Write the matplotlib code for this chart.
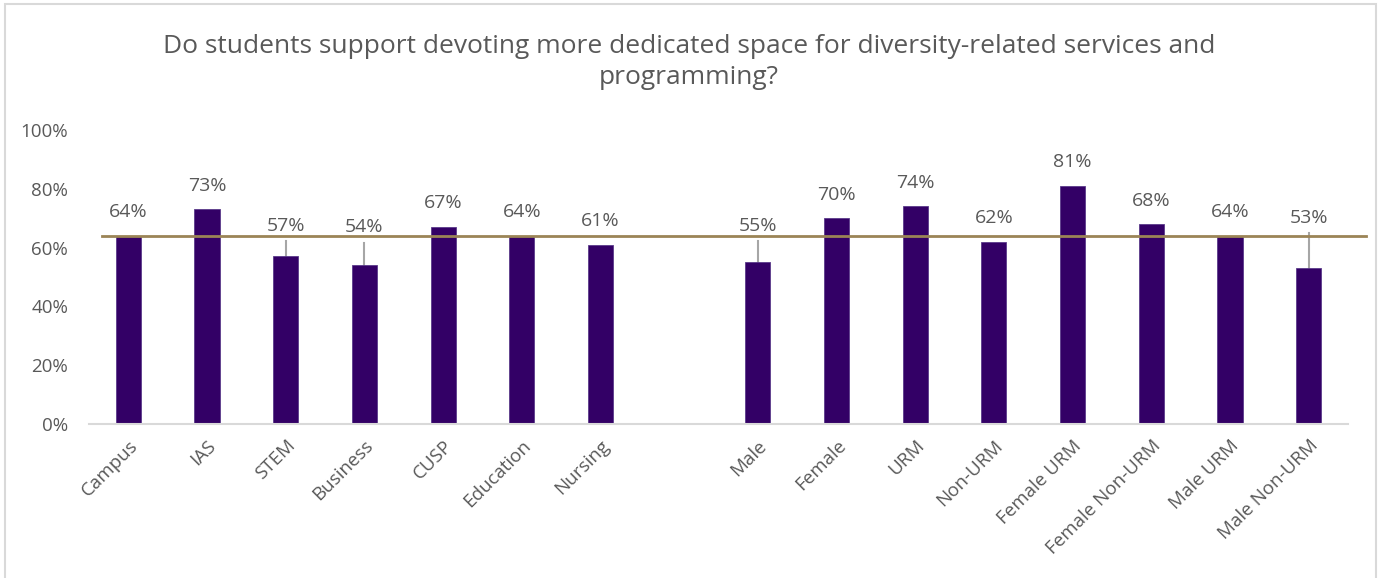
import numpy as np
import matplotlib.pyplot as plt
from matplotlib.patches import Rectangle

plt.rcParams['font.family'] = ['Open Sans', 'DejaVu Sans']

categories = ['Campus', 'IAS', 'STEM', 'Business', 'CUSP', 'Education', 'Nursing', '',
              'Male', 'Female', 'URM', 'Non-URM', 'Female URM', 'Female Non-URM',
              'Male URM', 'Male Non-URM']
support = [0.64, 0.73, 0.57, 0.54, 0.67, 0.64, 0.61, np.nan,
           0.55, 0.70, 0.74, 0.62, 0.81, 0.68, 0.64, 0.53]
campus_avg = 0.64

# labels that were pulled up above the average line: (label y, leader top)
moved_labels = {'STEM': (0.673, 0.622), 'Business': (0.670, 0.616),
                'Male': (0.673, 0.622), 'Male Non-URM': (0.700, 0.650)}

purple = '#330066'
gold = '#9b8456'
text_col = '#595959'

fig = plt.figure(figsize=(13.78, 5.78), dpi=100)
ax = fig.add_axes([0.0646, 0.2664, 0.9136, 0.5086])

x = np.arange(len(categories))
ax.bar(x, support, width=0.32, color=purple, edgecolor='#5a3a8a', linewidth=0.6, zorder=2)

ax.plot([-0.335, 15.73], [campus_avg, campus_avg], color=gold, lw=2, zorder=3, clip_on=False)

for xi, name, v in zip(x, categories, support):
    if np.isnan(v):
        continue
    txt = f'{v * 100:.0f}%'
    if name in moved_labels:
        ly, top = moved_labels[name]
        ax.plot([xi, xi], [v, top], color='#a6a6a6', lw=1.5, zorder=1)
        ax.text(xi, ly, txt, ha='center', va='center', fontsize=14, color=text_col)
    else:
        ax.annotate(txt, (xi, v), xytext=(0, 17), textcoords='offset points',
                    ha='center', va='center', fontsize=14, color=text_col)

ax.set_xlim(-0.5, len(categories) - 0.5)
ax.set_ylim(0, 1)
ax.set_yticks(np.arange(0, 1.01, 0.2))
ax.set_yticklabels([f'{t * 100:.0f}%' for t in np.arange(0, 1.01, 0.2)])
ax.set_xticks(x)
ax.set_xticklabels(categories, rotation=45, ha='right', rotation_mode='anchor')
ax.tick_params(axis='both', length=0, labelsize=13.5, labelcolor=text_col)
ax.tick_params(axis='y', pad=15)
ax.tick_params(axis='x', pad=9)
for s in ['top', 'right', 'left']:
    ax.spines[s].set_visible(False)
ax.spines['bottom'].set_color('#d9d9d9')
ax.spines['bottom'].set_linewidth(1.5)

fig.text(0.5, 0.893, 'Do students support devoting more dedicated space for diversity-related services and\nprogramming?',
         ha='center', va='center', fontsize=19, color=text_col, linespacing=1.3)

fig.patches.append(Rectangle((5 / 1378, -0.01), 1371 / 1378, 1 - 4 / 578 + 0.01,
                             transform=fig.transFigure, fill=False,
                             edgecolor='#d9d9d9', lw=1.5))

fig.savefig('out.png', dpi=100)
